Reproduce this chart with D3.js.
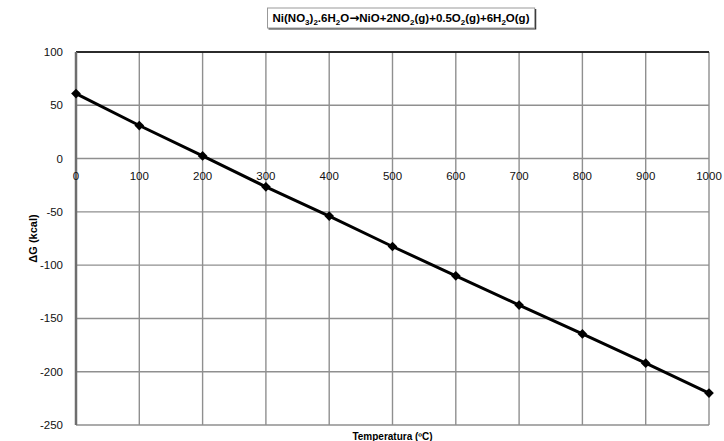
<!DOCTYPE html>
<html>
<head>
<meta charset="utf-8">
<script src="https://cdn.jsdelivr.net/npm/d3@7"></script>
<style>
  body { margin: 0; background: #fff; }
  svg { display: block; font-family: "Liberation Sans", Arial, sans-serif; }
</style>
</head>
<body>
<svg width="724" height="441"></svg>
<script>
// data
const temps = [0, 100, 200, 300, 400, 500, 600, 700, 800, 900, 1000];
const deltaG = [61, 31, 2.5, -26.5, -54, -82.5, -110, -137.5, -164.5, -192, -220];
const xTicks = [0, 100, 200, 300, 400, 500, 600, 700, 800, 900, 1000];
const yTicks = [100, 50, 0, -50, -100, -150, -200, -250];

const svg = d3.select('svg');
const margin = {left: 76, right: 15, top: 52, bottom: 16};
const W = 724 - margin.left - margin.right;
const H = 441 - margin.top - margin.bottom;

const x = d3.scaleLinear().domain([0, 1000]).range([0, W]);
const y = d3.scaleLinear().domain([-250, 100]).range([H, 0]);

const g = svg.append('g').attr('transform', `translate(${margin.left},${margin.top})`);

// grid
g.selectAll('.hgrid').data(yTicks).enter().append('line')
  .attr('x1', 0).attr('x2', W)
  .attr('y1', d => y(d)).attr('y2', d => y(d))
  .attr('stroke', '#8f8f8f').attr('stroke-width', 1.4);
g.selectAll('.vgrid').data(xTicks).enter().append('line')
  .attr('y1', 0).attr('y2', H)
  .attr('x1', d => x(d)).attr('x2', d => x(d))
  .attr('stroke', '#8f8f8f').attr('stroke-width', 1.4);

// top border black
g.append('line').attr('x1', 0).attr('x2', W).attr('y1', 0).attr('y2', 0)
  .attr('stroke', '#000').attr('stroke-width', 1.5);
// left axis thicker
g.append('line').attr('x1', 0).attr('x2', 0).attr('y1', 0).attr('y2', H)
  .attr('stroke', '#6e6e6e').attr('stroke-width', 2.5);

// y tick labels
g.selectAll('.ylab').data(yTicks).enter().append('text')
  .attr('x', -13).attr('y', d => y(d)).attr('dy', '0.35em')
  .attr('text-anchor', 'end').attr('font-size', 11.5).attr('fill', '#111')
  .text(d => d);

// x tick labels, sitting under the zero line
g.selectAll('.xlab').data(xTicks).enter().append('text')
  .attr('x', d => x(d)).attr('y', y(0) + 17).attr('dy', '0.35em')
  .attr('text-anchor', 'middle').attr('font-size', 11.5).attr('fill', '#111')
  .text(d => d);

// series
const pts = temps.map((t, i) => [t, deltaG[i]]);
g.append('path').datum(pts)
  .attr('fill', 'none').attr('stroke', '#000').attr('stroke-width', 3)
  .attr('d', d3.line().x(d => x(d[0])).y(d => y(d[1])));
g.selectAll('.pt').data(pts).enter().append('path')
  .attr('transform', d => `translate(${x(d[0])},${y(d[1])})`)
  .attr('d', d3.symbol(d3.symbolDiamond2, 60))
  .attr('fill', '#000');

// axis titles
svg.append('text')
  .attr('transform', `translate(37,${margin.top + H / 2}) rotate(-90)`)
  .attr('text-anchor', 'middle').attr('font-size', 11).attr('font-weight', 'bold')
  .text('ΔG (kcal)');
svg.append('text')
  .attr('x', margin.left + W / 2).attr('y', 440)
  .attr('text-anchor', 'middle').attr('font-size', 10).attr('font-weight', 'bold')
  .text('Temperatura (ºC)');

// title in a box
const titleG = svg.append('g');
const title = titleG.append('text')
  .attr('x', 401).attr('y', 22)
  .attr('text-anchor', 'middle').attr('font-size', 11.5).attr('font-weight', 'bold');
// [text, subscript?, use arrow font?]
const parts = [['Ni(NO', 0], ['3', 1], [')', 0], ['2', 1], ['.6H', 0], ['2', 1], ['O', 0],
  ['\u2192', 0, 1], ['NiO+2NO', 0], ['2', 1],
  ['(g)+0.5O', 0], ['2', 1], ['(g)+6H', 0], ['2', 1], ['O(g)', 0]];
parts.forEach((p, i) => {
  const t = title.append('tspan').text(p[0]);
  const prevSub = i > 0 && parts[i - 1][1];
  if (p[1]) t.attr('font-size', 8).attr('dy', 3);
  else t.attr('dy', prevSub ? -3 : 0);
  if (p[2]) t.attr('font-family', 'DejaVu Sans').attr('font-size', 12);
});
const bb = title.node().getBBox();
titleG.insert('rect', 'text')
  .attr('x', bb.x - 5).attr('y', 8).attr('width', bb.width + 10).attr('height', 20)
  .attr('fill', '#fff').attr('stroke', '#999').attr('stroke-width', 1);
titleG.append('path')
  .attr('d', `M${bb.x + bb.width + 6},9 V29 H${bb.x - 4}`)
  .attr('fill', 'none').attr('stroke', '#333').attr('stroke-width', 1.2);
</script>
</body>
</html>
